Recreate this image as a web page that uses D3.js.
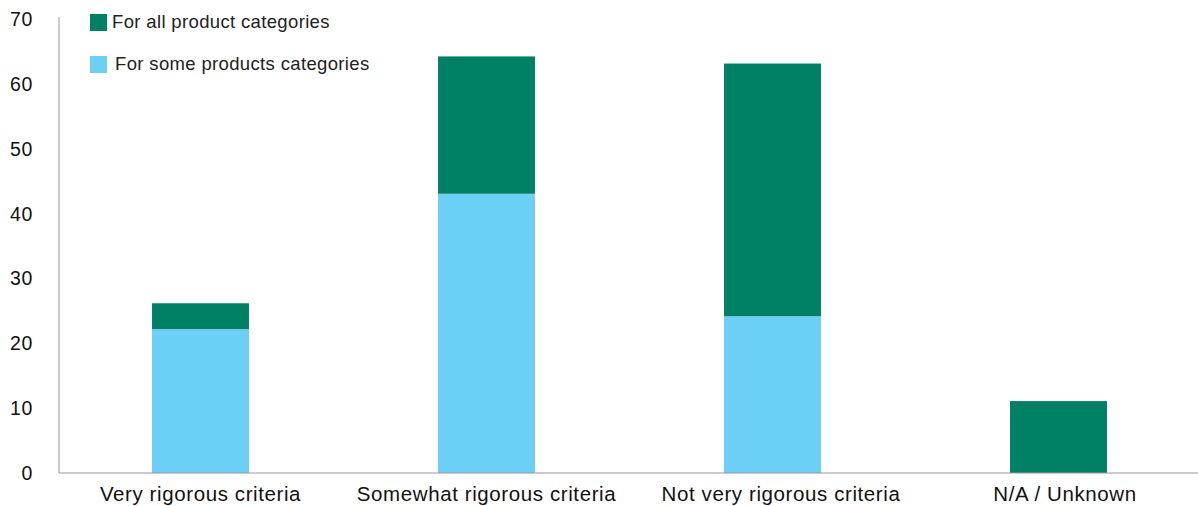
<!DOCTYPE html>
<html><head><meta charset="utf-8">
<script src="https://cdn.jsdelivr.net/npm/d3@7"></script>
<style>body{margin:0;background:#fff}svg{display:block;font-family:"Liberation Sans",Arial,sans-serif}</style>
</head><body><svg id="c" width="1198" height="506"></svg>
<script>
const categories = ["Very rigorous criteria","Somewhat rigorous criteria","Not very rigorous criteria","N/A / Unknown"];
const someValues = [22.2, 43.1, 24.2, 0];
const allValues = [4.0, 21.2, 39.0, 11.1];
const yTicks = [0,10,20,30,40,50,60,70];
const seriesNames = ["For all product categories","For some products categories"];
const colors = {all:"#008064", some:"#6CCFF6"};

const svg = d3.select("#c");
const x = d3.scaleBand().domain(categories).range([57.5,1201.5]).paddingInner(0.661).paddingOuter(0.3305);
const y = d3.scaleLinear().domain([0,70]).range([473,19.5]);

const data = categories.map((c,i)=>({c, some:someValues[i], all:allValues[i]}));
const stack = d3.stack().keys(["some","all"])(data);

svg.append("g").selectAll("g").data(stack).join("g")
  .attr("fill", d=>colors[d.key])
  .selectAll("rect").data(d=>d).join("rect")
  .attr("x", d=>x(d.data.c)).attr("width", x.bandwidth())
  .attr("y", d=>y(d[1])).attr("height", d=>y(d[0])-y(d[1]));

// y axis
const ya = svg.append("g").attr("transform","translate(59,0)")
  .call(d3.axisLeft(y).tickValues(yTicks).tickSize(0).tickPadding(26));
ya.select(".domain").attr("stroke","#999").attr("d","M0,17V473");
ya.selectAll("text").attr("font-size",19.5).attr("letter-spacing","0.6px").attr("fill","#111").attr("font-family","Liberation Sans, Arial, sans-serif");

// x axis (label nudges mimic the original's label placement)
const labelNudge = [0, 0, 8.5, 6.5];
const xa = svg.append("g").attr("transform","translate(0,473)")
  .call(d3.axisBottom(x).tickSize(0).tickPadding(13));
xa.select(".domain").attr("stroke","#999").attr("d","M59,0H1198");
xa.selectAll("text").attr("font-size",20.5).attr("letter-spacing","0.6px").attr("fill","#111").attr("font-family","Liberation Sans, Arial, sans-serif")
  .attr("dx",(d,i)=>labelNudge[i]);

// legend
const lg = svg.append("g");
const leg = [{n:seriesNames[0],c:colors.all,y:14,tx:112},{n:seriesNames[1],c:colors.some,y:56,tx:115}];
leg.forEach(l=>{
  lg.append("rect").attr("x",90).attr("y",l.y).attr("width",17).attr("height",17).attr("fill",l.c);
  lg.append("text").attr("x",l.tx).attr("y",l.y+14).attr("font-size",18.5).attr("letter-spacing","0.35px").attr("fill","#222").text(l.n);
});
</script></body></html>
